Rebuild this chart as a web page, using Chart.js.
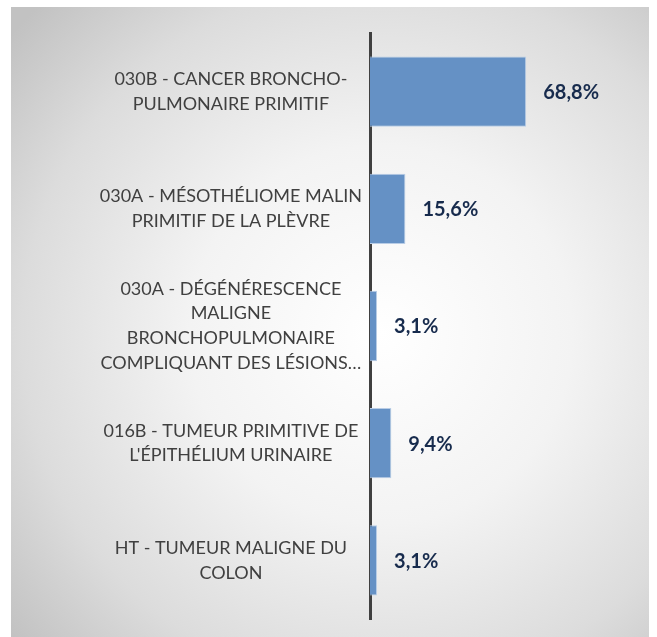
<!DOCTYPE html>
<html>
<head>
<meta charset="utf-8">
<script src="https://cdn.jsdelivr.net/npm/chart.js@4.4.1/dist/chart.umd.min.js"></script>
<style>
    html, body { margin: 0; padding: 0; background: #ffffff; }
    #wrap { position: relative; width: 657px; height: 637px; overflow: hidden; }
    #bg {
        position: absolute; left: 11px; top: 7px; width: 638px; height: 630px;
        background: radial-gradient(ellipse 75% 75% at 58% 52%, #ffffff 0%, #f3f3f3 40%, #dcdcdc 75%, #c2c2c2 100%);
    }
    #chart { position: absolute; left: 0; top: 0; }
</style>
</head>
<body>
<div id="wrap">
    <div id="bg"></div>
    <canvas id="chart" width="657" height="637"></canvas>
</div>
<script>
// categories (already wrapped like the original)
const categories = [
    ["030B - CANCER BRONCHO-", "PULMONAIRE PRIMITIF"],
    ["030A - MÉSOTHÉLIOME MALIN", "PRIMITIF DE LA PLÈVRE"],
    ["030A - DÉGÉNÉRESCENCE", "MALIGNE", "BRONCHOPULMONAIRE", "COMPLIQUANT DES LÉSIONS…"],
    ["016B - TUMEUR PRIMITIVE DE", "L'ÉPITHÉLIUM URINAIRE"],
    ["HT - TUMEUR MALIGNE DU", "COLON"]
]
const values = [68.8, 15.6, 3.1, 9.4, 3.1]

function fmtPct(v) {
    return v.toFixed(1).replace(".", ",") + "%"
}

// draws the bold percentage next to each bar
const valueLabels = {
    id: "valueLabels",
    afterDatasetsDraw(chart) {
        const ctx = chart.ctx
        const meta = chart.getDatasetMeta(0)
        ctx.save()
        ctx.font = "bold 20px Lato, 'Noto Sans', sans-serif"
        ctx.fillStyle = "#172B4D"
        ctx.textAlign = "left"
        ctx.textBaseline = "middle"
        meta.data.forEach((bar, i) => {
            ctx.fillText(fmtPct(values[i]), bar.x + 17, bar.y + 1)
        })
        ctx.restore()
    }
}

const ctx = document.getElementById("chart").getContext("2d")

new Chart(ctx, {
    type: "bar",
    data: {
        labels: categories,
        datasets: [{
            data: values,
            backgroundColor: "#6591C5",
            borderColor: "#B9CDE6",
            borderWidth: 1,
            categoryPercentage: 1,
            barPercentage: 0.6
        }]
    },
    options: {
        indexAxis: "y",
        responsive: false,
        animation: false,
        layout: {
            padding: { top: 33, bottom: 18, left: 10, right: 60 }
        },
        plugins: {
            legend: { display: false },
            tooltip: { enabled: false }
        },
        scales: {
            x: {
                display: false,
                min: 0,
                max: 100
            },
            y: {
                z: 1,
                grid: { display: false, drawTicks: false },
                border: { display: true, color: "#404040", width: 3 },
                ticks: {
                    crossAlign: "center",
                    padding: 8,
                    color: "#404040",
                    font: { family: "Lato, 'Noto Sans', sans-serif", size: 18, lineHeight: 1.37 }
                },
                afterFit(scale) {
                    scale.width = 360
                    scale.paddingTop = 0
                    scale.paddingBottom = 0
                }
            }
        }
    },
    plugins: [valueLabels]
})
</script>
</body>
</html>
